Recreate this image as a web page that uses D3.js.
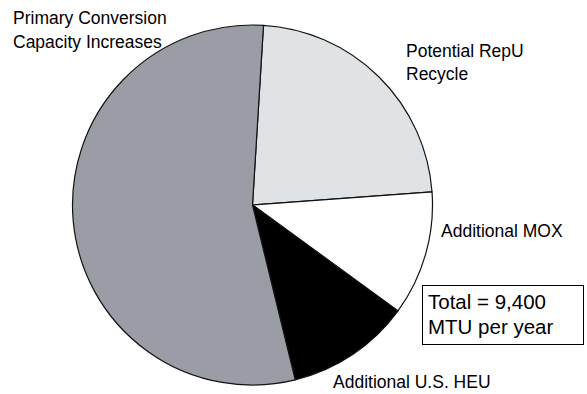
<!DOCTYPE html>
<html>
<head>
<meta charset="utf-8">
<script src="https://cdn.jsdelivr.net/npm/d3@7"></script>
<style>
  html, body { margin: 0; padding: 0; background: #fff; }
  svg { display: block; }
  text { font-family: "Liberation Sans", Arial, sans-serif; fill: #000; }
</style>
</head>
<body>
<svg id="chart" width="587" height="394"></svg>
<script>
// Data (MTU per year)
const categories = ["Potential RepU Recycle", "Additional MOX", "Additional U.S. HEU", "Primary Conversion Capacity Increases"];
const values = [2150, 1050, 1050, 5150];
const colors = ["#dfe3e6", "#ffffff", "#000000", "#9a9da5"];
const labelLines = [["Potential RepU", "Recycle"], ["Additional MOX"], ["Additional U.S. HEU"], ["Primary Conversion", "Capacity Increases"]];
const totalLines = ["Total = 9,400", "MTU per year"];

const svg = d3.select("#chart");
const cx = 252.5, cy = 205, r = 180;
const start = 3.5 * Math.PI / 180;

const pie = d3.pie().sort(null).value(d => d).startAngle(start).endAngle(start + 2 * Math.PI);
const arc = d3.arc().innerRadius(0).outerRadius(r);

const g = svg.append("g").attr("transform", `translate(${cx},${cy})`);
g.selectAll("path").data(pie(values)).join("path")
  .attr("d", arc)
  .attr("fill", (d, i) => colors[i])
  .attr("stroke", "#111")
  .attr("stroke-width", 1.2)
  .attr("stroke-linejoin", "round");

// labels
const labelPos = [[406, 57], [441, 237], [333, 388], [13, 24]];
const lineH = [23, 0, 0, 24];
labelLines.forEach((lines, i) => {
  const t = svg.append("text").attr("x", labelPos[i][0]).attr("y", labelPos[i][1]).style("font-size", "17.5px");
  lines.forEach((l, j) => t.append("tspan").attr("x", labelPos[i][0]).attr("dy", j === 0 ? 0 : lineH[i]).text(l));
});

// total box
svg.append("rect").attr("x", 422.5).attr("y", 285.5).attr("width", 161).attr("height", 59)
  .attr("fill", "#fff").attr("stroke", "#000").attr("stroke-width", 1);
const tt = svg.append("text").attr("x", 428).attr("y", 309).style("font-size", "20.5px");
totalLines.forEach((l, j) => tt.append("tspan").attr("x", 428).attr("dy", j === 0 ? 0 : 25).text(l));
</script>
</body>
</html>
